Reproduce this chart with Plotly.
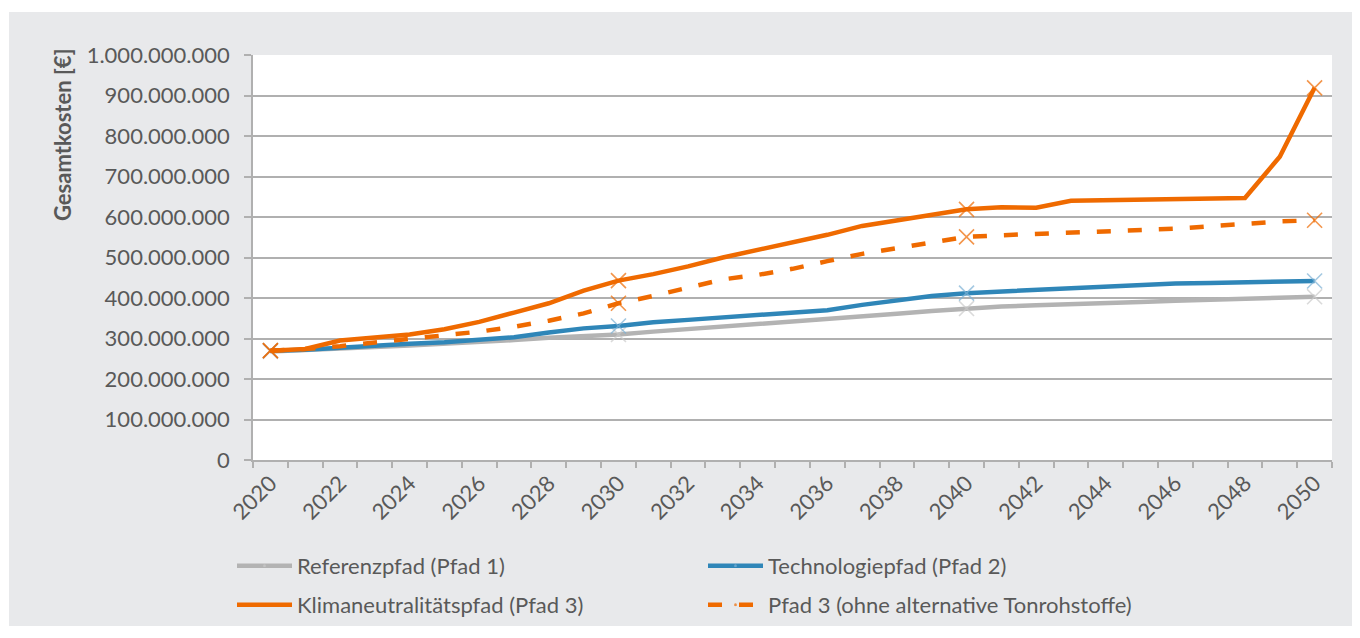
import plotly.graph_objects as go

years = list(range(2020, 2051))
marker_years = [2020, 2030, 2040, 2050]

referenzpfad = [268, 271, 275, 279, 283, 287, 291, 296, 302, 306, 310,
                317, 323, 330, 336, 342, 348, 354, 361, 368, 374,
                379, 382, 384, 387, 390, 393, 395, 397, 400, 403]
technologiepfad = [270, 272, 277, 283, 287, 291, 296, 303, 315, 325, 331,
                   340, 346, 352, 358, 364, 370, 383, 393, 405, 412,
                   416, 420, 424, 427, 431, 436, 437, 438, 439, 442]
klimapfad = [270, 274, 295, 302, 310, 323, 341, 364, 387, 418, 443,
             459, 478, 500, 519, 538, 556, 578, 591, 605, 619,
             624, 623, 640, 641, 643, 644, 645, 647, 749, 919]
pfad3_ohne = [270, 274, 281, 290, 298, 306, 317, 329, 344, 362, 387,
              405, 425, 446, 457, 472, 491, 509, 523, 537, 551,
              555, 558, 561, 564, 567, 571, 577, 583, 589, 592]

names = ["Referenzpfad (Pfad 1)", "Technologiepfad (Pfad 2)",
         "Klimaneutralitätspfad (Pfad 3)", "Pfad 3 (ohne alternative Tonrohstoffe)"]
series = [referenzpfad, technologiepfad, klimapfad, pfad3_ohne]
line_colors = ["#b3b3b3", "#2f86b8", "#ef6a00", "#ef6a00"]
marker_colors = ["#cbcbcb", "#7fb3d6", "#ef6a00", "#ef6a00"]
dashes = ["solid", "solid", "solid", "14px,17px"]
legends = ["legend", "legend", "legend2", "legend2"]

FONT = "Lato"
TXT = "#595959"
GRID = "#b0b0b0"

fig = go.Figure()
for name, vals, lc, mc, ds, lg in zip(names, series, line_colors, marker_colors, dashes, legends):
    sizes = [15 if y in marker_years else 0 for y in years]
    fig.add_trace(go.Scatter(
        x=years, y=[v * 1e6 for v in vals], name=name, mode="lines+markers",
        line=dict(color=lc, width=4.5, dash=ds), legend=lg,
        marker=dict(symbol="x-thin", size=sizes, color=mc,
                    line=dict(color=mc, width=1.6)),
    ))

# screen geometry (page body has an 8px margin)
OFF = 8
L, T, W, H = 253, 55, 1079, 405
FW, FH = 1360, 638


def px_x(p):
    return (p - L) / W


def px_y(p):
    return (T + H - p) / H


fig.add_shape(type="rect", xref="paper", yref="paper",
              x0=px_x(9), x1=px_x(1352), y0=px_y(626), y1=px_y(12),
              fillcolor="#e8e9eb", line_width=0, layer="below")
fig.add_shape(type="rect", xref="paper", yref="paper",
              x0=0, x1=1, y0=0, y1=1,
              fillcolor="white", line_width=0, layer="below")

fig.add_annotation(text="<b>Gesamtkosten [€]</b>", xref="paper", yref="paper",
                   x=px_x(62), y=px_y(135), xanchor="center", yanchor="middle",
                   textangle=-90, showarrow=False,
                   font=dict(family=FONT, size=22, color=TXT))

legend_common = dict(orientation="h", xanchor="left", yanchor="top",
                     entrywidth=401, entrywidthmode="pixels",
                     bgcolor="rgba(0,0,0,0)", itemwidth=55,
                     font=dict(family=FONT, size=22, color=TXT),
                     traceorder="normal")

fig.update_layout(
    width=FW, height=FH,
    margin=dict(l=L - OFF, r=FW - (L - OFF) - W, t=T - OFF, b=FH - (T - OFF) - H),
    paper_bgcolor="white", plot_bgcolor="white",
    separators=",.",
    font=dict(family=FONT, size=22, color=TXT),
    xaxis=dict(range=[2019.5, 2050.5], tickvals=list(range(2020, 2051, 2)),
               tickangle=-45, ticks="", showgrid=False, zeroline=False,
               showline=True, linecolor=GRID, linewidth=1.5,
               tickfont=dict(family=FONT, size=22, color=TXT),
               minor=dict(tickvals=[y + 0.5 for y in range(2019, 2051)],
                          ticks="outside", ticklen=6, tickcolor=GRID, tickwidth=1.5,
                          showgrid=False)),
    yaxis=dict(range=[0, 1e9], tickvals=[i * 1e8 for i in range(11)],
               tickformat=",d", ticks="outside", ticklen=7, tickcolor=GRID,
               tickwidth=1.5, showgrid=True, gridcolor=GRID, gridwidth=1.5,
               zeroline=False, showline=True, linecolor=GRID, linewidth=1.5,
               ticklabelstandoff=10,
               tickfont=dict(family=FONT, size=22, color=TXT)),
    legend=dict(x=px_x(232), y=px_y(545), **legend_common),
    legend2=dict(x=px_x(232), y=px_y(584), **legend_common),
    showlegend=True,
)

fig.write_html("out.html")
